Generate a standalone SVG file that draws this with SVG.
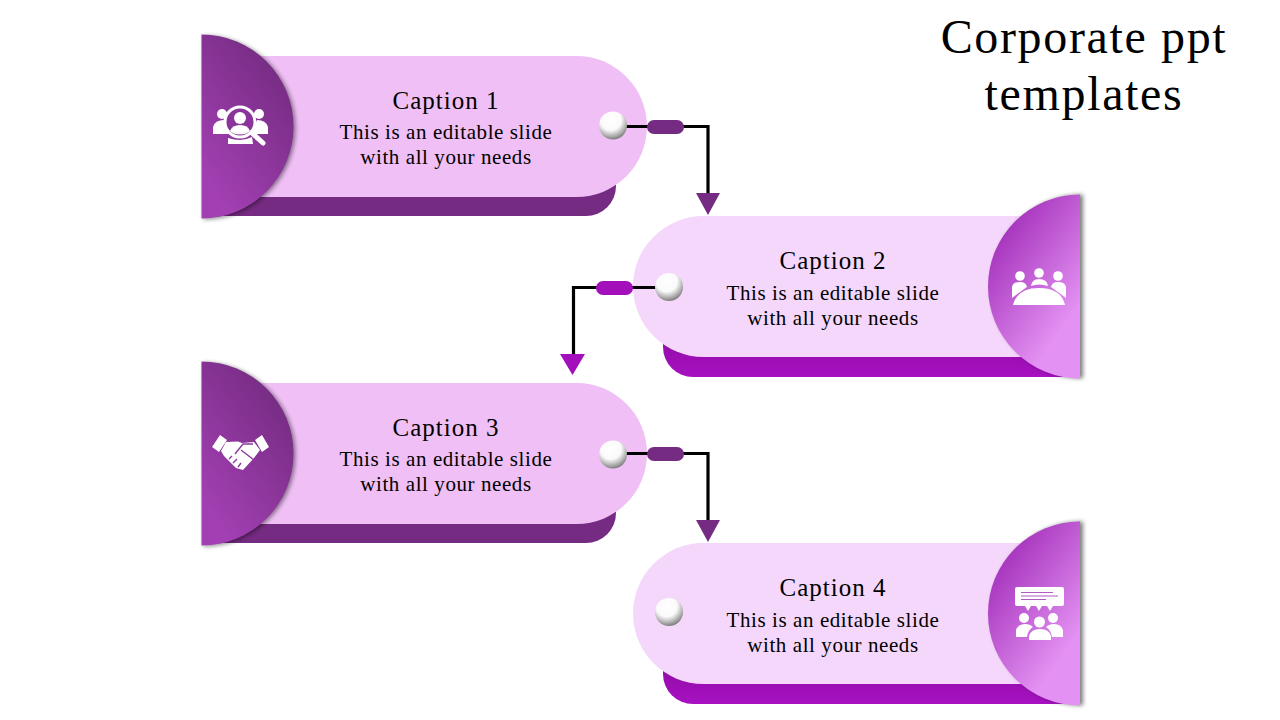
<svg xmlns="http://www.w3.org/2000/svg" width="1280" height="720" viewBox="0 0 1280 720">
<style>
text{font-family:"Liberation Serif","Times New Roman",serif;fill:#000;text-anchor:middle}
.t{font-size:48px;letter-spacing:1.65px}.c{font-size:25px;letter-spacing:1px}.b{font-size:21px;letter-spacing:.58px}
.p1{fill:#efbff5}.p2{fill:#f4d7fb}
.d1{fill:#762b82}.d2{fill:#a20fbb}
.w{fill:#fff}
.ln{fill:none;stroke:#000;stroke-width:3.2}
</style>
<defs>
<linearGradient id="g1" x1="0.85" y1="0" x2="0.15" y2="1"><stop offset="0.1" stop-color="#752c82"/><stop offset="0.9" stop-color="#a23fb2"/></linearGradient>
<linearGradient id="g2" x1="0.15" y1="0" x2="0.85" y2="1"><stop offset="0.1" stop-color="#a32fba"/><stop offset="0.8" stop-color="#e391f2"/></linearGradient>
<linearGradient id="s2" x1="0" y1="0" x2="0" y2="1"><stop offset="0" stop-color="#8f0ca5"/><stop offset="1" stop-color="#a711c1"/></linearGradient>
<radialGradient id="ball" cx="0.42" cy="0.3" r="0.74"><stop offset="0" stop-color="#fff"/><stop offset="0.5" stop-color="#fafafa"/><stop offset="0.78" stop-color="#b0b0b0"/><stop offset="1" stop-color="#6f6f6f"/></radialGradient>
<filter id="sh" x="-20%" y="-20%" width="140%" height="140%"><feGaussianBlur stdDeviation="2"/></filter>
</defs>
<g id="title"><text class="t" x="1084" y="53">Corporate ppt</text><text class="t" x="1084" y="110">templates</text></g>

<g id="node1">
<path class="d1" d="M212 175H616V186A30 30 0 0 1 586 216H212Z"/>
<path class="p1" d="M230 56H576.500A70.500 70.500 0 0 1 576.500 197H230Z"/>
<path d="M201.500 34.500A92 92 0 0 1 201.500 218.500Z" fill="#000" opacity=".45" filter="url(#sh)" transform="translate(2 1)"/>
<path d="M201.500 34.500A92 92 0 0 1 201.500 218.500Z" fill="url(#g1)"/>
<g class="w">
<circle cx="222" cy="114" r="5"/><circle cx="259" cy="114" r="5"/>
<path d="M213 134V127Q215 120 224 120L229 134ZM268 134V127Q266 120 257 120L252 134Z"/>
<circle cx="240" cy="122" r="15" fill="#8a339a" stroke="#fff" stroke-width="3"/>
<circle cx="240" cy="118" r="6"/>
<path d="M230 131Q232 125 240 125Q248 125 250 131Q246 134.500 240 134.500Q234 134.500 230 131Z"/>
<path d="M228 138Q234 140 240 140Q246 140 252 137L253 144H228Z"/>
<path d="M252 133L263 143" stroke="#fff" stroke-width="5" stroke-linecap="round"/>
</g>
<text class="c" x="446" y="109">Caption 1</text><text class="b" x="446" y="139">This is an editable slide</text><text class="b" x="446" y="164">with all your needs</text>
</g>

<g id="node2">
<path fill="url(#s2)" d="M663 336H1075V377H693A30 30 0 0 1 663 347Z"/>
<path class="p2" d="M703.500 216H1040V357H703.500A70.500 70.500 0 0 1 703.500 216Z"/>
<path d="M1080 194.500A92 92 0 0 0 1080 378.500Z" fill="#000" opacity=".5" filter="url(#sh)" transform="translate(3 0)"/>
<path d="M1080 194.500A92 92 0 0 0 1080 378.500Z" fill="url(#g2)"/>
<g class="w">
<circle cx="1020" cy="276" r="4.800"/><circle cx="1039" cy="273" r="4.800"/><circle cx="1058" cy="276" r="4.800"/>
<path d="M1012 298V287Q1013 282 1020 282Q1026 282 1027 287L1012 298ZM1066 298V287Q1065 282 1058 282Q1052 282 1051 287L1066 298ZM1031 286Q1032 279 1039 279Q1047 279 1048 286Q1039 283 1031 286Z"/>
<path d="M1013 305Q1017 288 1039 288Q1061 288 1065 305Z"/>
</g>
<text class="c" x="833" y="269">Caption 2</text><text class="b" x="833" y="300">This is an editable slide</text><text class="b" x="833" y="325">with all your needs</text>
</g>

<g id="node3">
<path class="d1" d="M212 502H616V513A30 30 0 0 1 586 543H212Z"/>
<path class="p1" d="M230 383H576.500A70.500 70.500 0 0 1 576.500 524H230Z"/>
<path d="M201.500 361.500A92 92 0 0 1 201.500 545.500Z" fill="#000" opacity=".45" filter="url(#sh)" transform="translate(2 1)"/>
<path d="M201.500 361.500A92 92 0 0 1 201.500 545.500Z" fill="url(#g1)"/>
<g class="w">
<path d="M212 447L220 435L227 440L219 452ZM269 447L262 435L255 440L262 452Z"/>
<path d="M226 442L238 441.500L242 443L254 442L260 450L254 458L243 470L236 468L224 456L221 451Z"/>
</g>
<path d="M235 454L243 444H253M241 450L254 460M229 459L232 456M233 463L237 459M238 467L241 463" fill="none" stroke="#8f389f" stroke-width="1.400"/>
<text class="c" x="446" y="436">Caption 3</text><text class="b" x="446" y="466">This is an editable slide</text><text class="b" x="446" y="491">with all your needs</text>
</g>

<g id="node4">
<path fill="url(#s2)" d="M663 663H1075V704H693A30 30 0 0 1 663 674Z"/>
<path class="p2" d="M703.500 543H1040V684H703.500A70.500 70.500 0 0 1 703.500 543Z"/>
<path d="M1080 521.500A92 92 0 0 0 1080 705.500Z" fill="#000" opacity=".5" filter="url(#sh)" transform="translate(3 0)"/>
<path d="M1080 521.500A92 92 0 0 0 1080 705.500Z" fill="url(#g2)"/>
<g class="w">
<path d="M1017 587H1062Q1064 587 1064 589V604Q1064 606 1062 606H1053L1050 611L1047 606H1042L1039 611L1036 606H1031L1028 611L1025 606H1017Q1015 606 1015 604V589Q1015 587 1017 587Z"/>
<circle cx="1024" cy="618" r="5"/><circle cx="1053" cy="618" r="5"/><circle cx="1039.500" cy="622" r="5.500"/>
<path d="M1016 637V630Q1018 624 1025 624Q1030 624 1033 627Q1028 630 1027 637ZM1063 637V630Q1061 624 1054 624Q1049 624 1046 627Q1051 630 1052 637ZM1029 640V636Q1031 629 1040 629Q1049 629 1051 636V640Z"/>
</g>
<path d="M1021 592.500H1053M1021 596H1058M1021 599.500H1046" stroke="#b05cc4" stroke-width="1.200" fill="none"/>
<text class="c" x="833" y="596">Caption 4</text><text class="b" x="833" y="627">This is an editable slide</text><text class="b" x="833" y="652">with all your needs</text>
</g>

<g id="connectors">
<path class="ln" d="M613 126.500H708V195"/>
<rect class="d1" x="647" y="120" width="37" height="14" rx="7"/>
<path class="d1" d="M696 193H720L708 215Z"/>
<circle cx="613" cy="125.500" r="14" fill="url(#ball)"/>

<path class="ln" d="M669 287.500H573.500V356"/>
<rect class="d2" x="596" y="281" width="37" height="14" rx="7"/>
<path class="d2" d="M560 354H585L572.500 375Z"/>
<circle cx="669" cy="287" r="14" fill="url(#ball)"/>

<path class="ln" d="M613 453.500H708V522"/>
<rect class="d1" x="647" y="447" width="37" height="14" rx="7"/>
<path class="d1" d="M696 520H720L708 542Z"/>
<circle cx="613" cy="454.500" r="14" fill="url(#ball)"/>

<circle cx="669" cy="612" r="14" fill="url(#ball)"/>
</g>
</svg>
